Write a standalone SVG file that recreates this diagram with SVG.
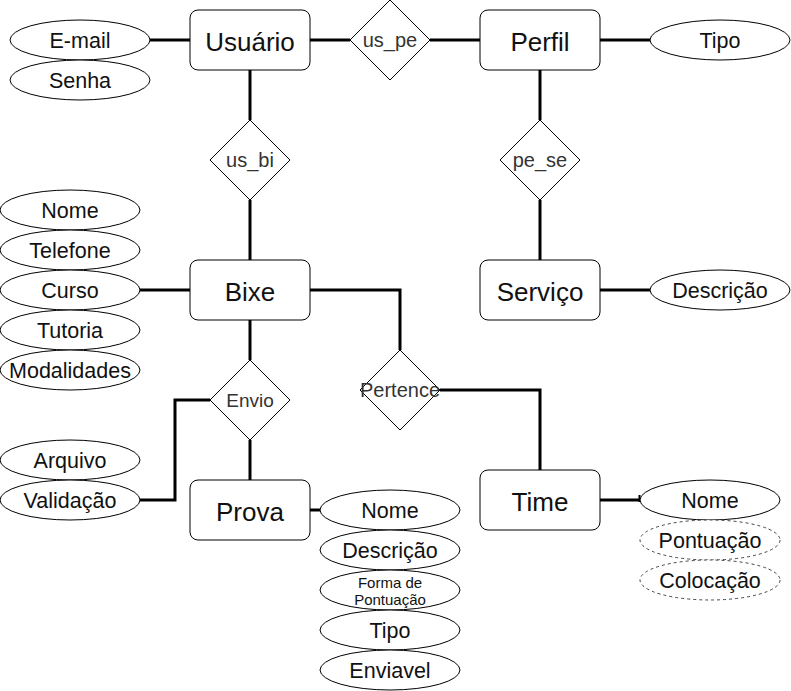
<svg xmlns="http://www.w3.org/2000/svg" width="791" height="691" viewBox="0 0 791 691">
<style>
.ent rect{fill:#fff;stroke:#000;stroke-width:1}
.ent text{font-family:"Liberation Sans",Arial,sans-serif;font-size:26px;fill:#111;text-anchor:middle}
.att ellipse{fill:#fff;stroke:#000;stroke-width:1}
.att.dash ellipse{stroke:#444;stroke-dasharray:3 3}
.att text{font-family:"Liberation Sans",Arial,sans-serif;font-size:21.5px;fill:#111;text-anchor:middle}
.rel polygon{fill:#fff;stroke:#000;stroke-width:1}
.rel text{font-family:"Liberation Sans",Arial,sans-serif;font-size:20px;fill:#333;text-anchor:middle}
#connectors path{fill:none;stroke:#000;stroke-width:3}
</style>
<rect width="791" height="691" fill="#fff"/>
<g id="connectors">
<path d="M150 40H190"/>
<path d="M310 40H350"/>
<path d="M430 40H480"/>
<path d="M600 40H650"/>
<path d="M250 70V120"/>
<path d="M250 200V260"/>
<path d="M540 70V120"/>
<path d="M540 200V260"/>
<path d="M600 290H650"/>
<path d="M140 290H190"/>
<path d="M250 320V360"/>
<path d="M250 440V480"/>
<path d="M210 400H175V500H140"/>
<path d="M310 290H400V350"/>
<path d="M440 390H540V470"/>
<path d="M310 510H320"/>
<path d="M600 500H640"/>
<path d="M639.5 495V502" style="stroke-width:2"/>
</g>
<g id="usuario" class="ent"><rect x="190" y="10" width="120" height="60" rx="8"/><text x="250" y="51">Usuário</text></g>
<g id="perfil" class="ent"><rect x="480" y="10" width="120" height="60" rx="8"/><text x="540" y="51">Perfil</text></g>
<g id="bixe" class="ent"><rect x="190" y="260" width="120" height="60" rx="8"/><text x="250" y="301">Bixe</text></g>
<g id="servico" class="ent"><rect x="480" y="260" width="120" height="60" rx="8"/><text x="540" y="301">Serviço</text></g>
<g id="prova" class="ent"><rect x="190" y="480" width="120" height="60" rx="8"/><text x="250" y="521">Prova</text></g>
<g id="time" class="ent"><rect x="480" y="470" width="120" height="60" rx="8"/><text x="540" y="511">Time</text></g>
<g id="us_pe" class="rel"><polygon points="390,0 430,40 390,80 350,40"/><text x="390" y="47">us_pe</text></g>
<g id="us_bi" class="rel"><polygon points="250,120 290,160 250,200 210,160"/><text x="250" y="167">us_bi</text></g>
<g id="pe_se" class="rel"><polygon points="540,120 580,160 540,200 500,160"/><text x="540" y="167">pe_se</text></g>
<g id="envio" class="rel"><polygon points="250,360 290,400 250,440 210,400"/><text x="250" y="407" style="font-size:19px">Envio</text></g>
<g id="pertence" class="rel"><polygon points="400,350 440,390 400,430 360,390"/><text x="400" y="397">Pertence</text></g>
<g id="email" class="att"><ellipse cx="80" cy="40" rx="70" ry="20"/><text x="80" y="48">E-mail</text></g>
<g id="senha" class="att"><ellipse cx="80" cy="80" rx="70" ry="20"/><text x="80" y="88">Senha</text></g>
<g id="tipo_perfil" class="att"><ellipse cx="720" cy="40" rx="70" ry="20"/><text x="720" y="48">Tipo</text></g>
<g id="bixe_nome" class="att"><ellipse cx="70" cy="210" rx="70" ry="20"/><text x="70" y="218">Nome</text></g>
<g id="bixe_telefone" class="att"><ellipse cx="70" cy="250" rx="70" ry="20"/><text x="70" y="258">Telefone</text></g>
<g id="bixe_curso" class="att"><ellipse cx="70" cy="290" rx="70" ry="20"/><text x="70" y="298">Curso</text></g>
<g id="bixe_tutoria" class="att"><ellipse cx="70" cy="330" rx="70" ry="20"/><text x="70" y="338">Tutoria</text></g>
<g id="bixe_modalidades" class="att"><ellipse cx="70" cy="370" rx="70" ry="20"/><text x="70" y="378">Modalidades</text></g>
<g id="servico_descricao" class="att"><ellipse cx="720" cy="290" rx="70" ry="20"/><text x="720" y="298">Descrição</text></g>
<g id="envio_arquivo" class="att"><ellipse cx="70" cy="460" rx="70" ry="20"/><text x="70" y="468">Arquivo</text></g>
<g id="envio_validacao" class="att"><ellipse cx="70" cy="500" rx="70" ry="20"/><text x="70" y="508">Validação</text></g>
<g id="prova_nome" class="att"><ellipse cx="390" cy="510" rx="70" ry="20"/><text x="390" y="518">Nome</text></g>
<g id="prova_descricao" class="att"><ellipse cx="390" cy="550" rx="70" ry="20"/><text x="390" y="558">Descrição</text></g>
<g id="prova_forma" class="att"><ellipse cx="390" cy="590" rx="70" ry="20"/><text x="390" y="588" style="font-size:15px">Forma de</text><text x="390" y="605" style="font-size:15px">Pontuação</text></g>
<g id="prova_tipo" class="att"><ellipse cx="390" cy="630" rx="70" ry="20"/><text x="390" y="638">Tipo</text></g>
<g id="prova_enviavel" class="att"><ellipse cx="390" cy="670" rx="70" ry="20"/><text x="390" y="678">Enviavel</text></g>
<g id="time_nome" class="att"><ellipse cx="710" cy="500" rx="70" ry="20"/><text x="710" y="508">Nome</text></g>
<g id="time_pontuacao" class="att dash"><ellipse cx="710" cy="540" rx="70" ry="20"/><text x="710" y="548">Pontuação</text></g>
<g id="time_colocacao" class="att dash"><ellipse cx="710" cy="580" rx="70" ry="20"/><text x="710" y="588">Colocação</text></g>
</svg>
